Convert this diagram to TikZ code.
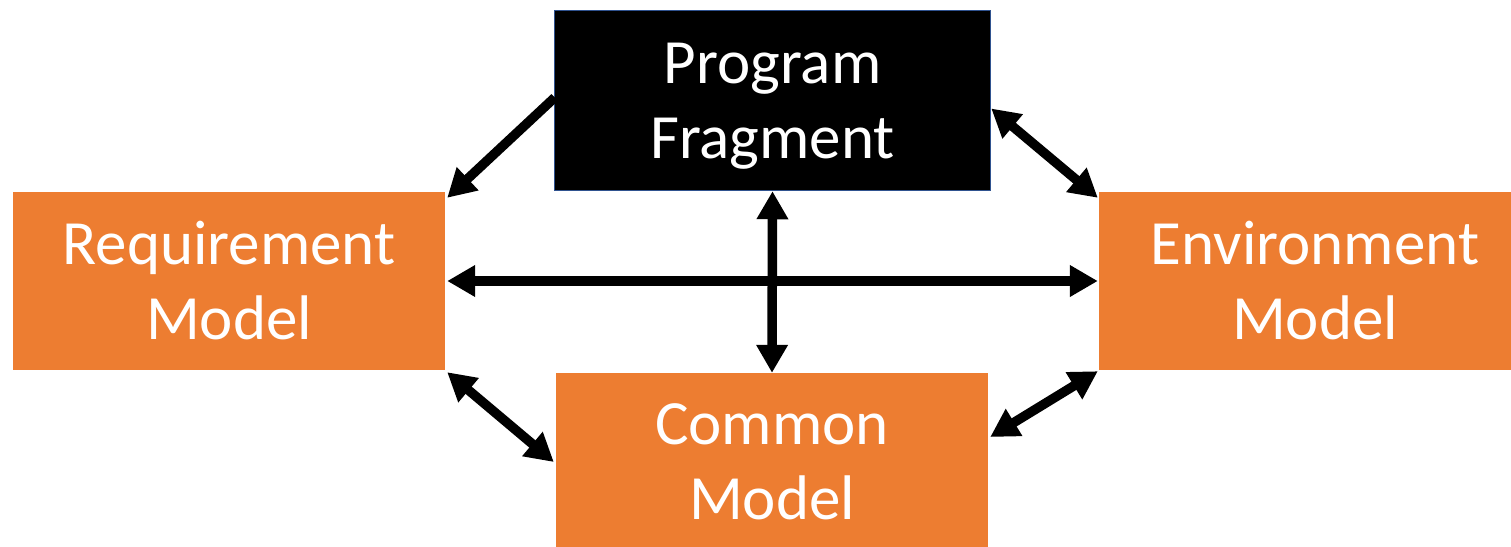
\documentclass[tikz,border=0pt]{standalone}
\usepackage{fontspec}
\setmainfont{Carlito}
\usetikzlibrary{arrows.meta}
\definecolor{boxorange}{HTML}{ED7D31}
\definecolor{boxblue}{HTML}{2F528F}
\begin{document}
\begin{tikzpicture}[x=1pt,y=-1pt,
  >={Triangle[length=28pt,width=30pt]},
  box/.style={rectangle, inner sep=0pt, text=white, align=center,
    font=\fontsize{63}{75}\selectfont, text height=116pt, text depth=0pt},
  orangebox/.style={box, fill=boxorange, minimum width=432pt, minimum height=178pt},
  blackbox/.style={box, fill=black, draw=boxblue, line width=1.5pt,
    minimum width=436pt, minimum height=180pt},
  onearrow/.style={line width=9.5pt, ->},
  twoarrow/.style={line width=9.5pt, <->}]
\useasboundingbox (0,0) rectangle (1511,546);
\clip (0,0) rectangle (1511,546);
\node[blackbox]  (prog) at (772.5,100.5) {Program\\Fragment};
\node[orangebox] (req)  at (229,281) {Requirement\\Model};
\node[orangebox] (env)  at (1315,281) {Environment\\Model};
\node[orangebox, minimum height=176pt] (com) at (772,461) {Common\\Model};
\draw[onearrow] ([shift={(1,-3)}]prog.west) -- ([shift={(2,6)}]req.north east);
\draw[twoarrow] ([shift={(0,8)}]prog.east) -- ([shift={(-1,6)}]env.north west);
\draw[twoarrow] ([shift={(2,2)}]req.south east) -- ([shift={(-2,1)}]com.west);
\draw[twoarrow] ([shift={(-1,1)}]env.south west) -- ([shift={(2,-24)}]com.east);
\draw[twoarrow] (prog.south) -- (com.north);
\draw[twoarrow] ([xshift=2pt]req.east) -- ([xshift=-1pt]env.west);
\end{tikzpicture}
\end{document}
